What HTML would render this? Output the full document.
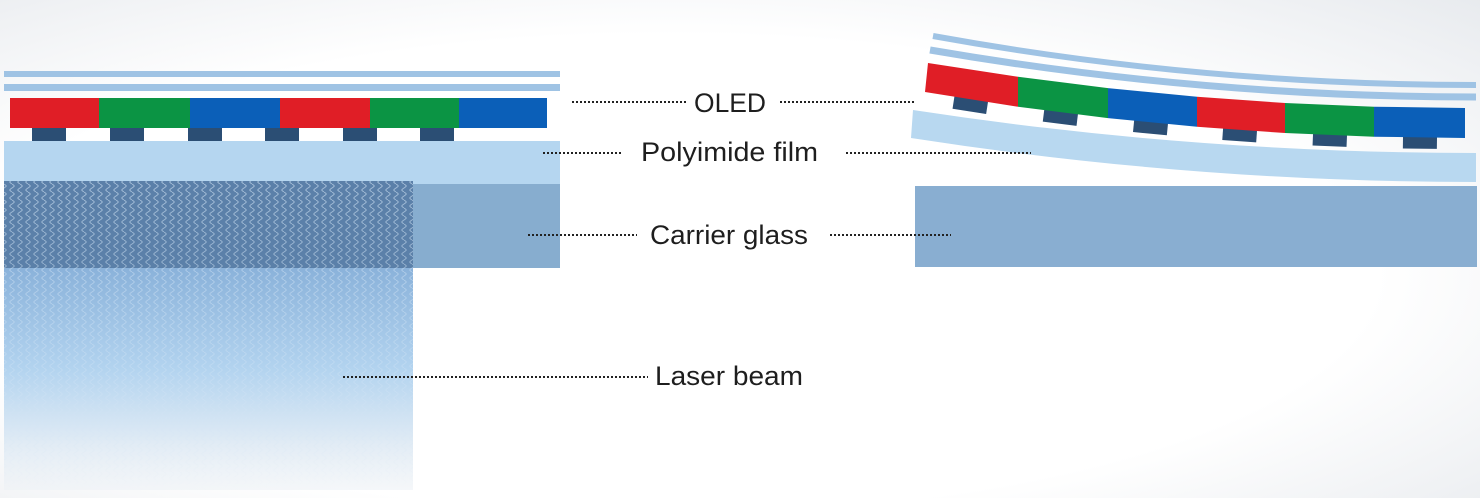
<!DOCTYPE html>
<html><head><meta charset="utf-8"><style>
html,body{margin:0;padding:0;background:#fff;}
svg{display:block;}
text{font-family:"Liberation Sans",sans-serif;font-size:27px;fill:#1e1e1e;}
</style></head><body>
<svg width="1480" height="498" viewBox="0 0 1480 498" xmlns="http://www.w3.org/2000/svg">
<defs>
<radialGradient id="bg" cx="45%" cy="55%" r="80%">
<stop offset="0.6" stop-color="#ffffff"/><stop offset="1" stop-color="#e6e9ed"/>
</radialGradient>
<linearGradient id="beam" x1="0" y1="0" x2="0" y2="1">
<stop offset="0" stop-color="#8ab2da"/><stop offset="0.45" stop-color="#b2d3ef"/><stop offset="0.8" stop-color="#e2ecf5"/><stop offset="1" stop-color="#eef2f6" stop-opacity="0.6"/>
</linearGradient>
<pattern id="wave" width="8" height="8" patternUnits="userSpaceOnUse">
<path d="M4,0 C7,2 7,2 4,4 C1,6 1,6 4,8" fill="none" stroke="#d6e6f6" stroke-width="1" opacity="0.6"/>
</pattern>
<linearGradient id="fadeMask" x1="0" y1="0" x2="0" y2="1">
<stop offset="0" stop-color="#fff"/><stop offset="0.75" stop-color="#fff" stop-opacity="0.5"/><stop offset="1" stop-color="#fff" stop-opacity="0"/>
</linearGradient>
<mask id="m"><rect x="0" y="180" width="420" height="310" fill="url(#fadeMask)"/></mask>
</defs>
<rect width="1480" height="498" fill="url(#bg)"/>

<rect x="4" y="71" width="556" height="6" fill="#9fc3e4"/>
<rect x="4" y="84" width="556" height="7" fill="#9fc3e4"/>
<rect x="10" y="98" width="90" height="30" fill="#e01e26"/>
<rect x="99" y="98" width="91" height="30" fill="#0b9444"/>
<rect x="190" y="98" width="90" height="30" fill="#0b5fb8"/>
<rect x="280" y="98" width="90" height="30" fill="#e01e26"/>
<rect x="370" y="98" width="89" height="30" fill="#0b9444"/>
<rect x="459" y="98" width="88" height="30" fill="#0b5fb8"/>
<g fill="#2b4e74">
<rect x="32" y="128" width="34" height="13"/><rect x="110" y="128" width="34" height="13"/>
<rect x="188" y="128" width="34" height="13"/><rect x="265" y="128" width="34" height="13"/>
<rect x="343" y="128" width="34" height="13"/><rect x="420" y="128" width="34" height="13"/>
</g>
<rect x="4" y="141" width="556" height="43" fill="#b5d6f0"/>
<rect x="4" y="184" width="556" height="84" fill="#87adcf"/>
<rect x="4" y="268" width="409" height="222" fill="url(#beam)"/>
<rect x="4" y="181" width="409" height="87" fill="#5b80a9"/>
<rect x="4" y="181" width="409" height="309" fill="url(#wave)" mask="url(#m)"/>

<path d="M933,36 Q1204,85 1476,85" fill="none" stroke="#9fc3e4" stroke-width="6"/>
<path d="M930,50 Q1203,97 1476,97" fill="none" stroke="#9fc3e4" stroke-width="7"/>
<path d="M913,110 Q1194,153 1476,153 L1476,182 Q1194,182 911,138 Z" fill="#b8d8f0"/>
<g fill="#2b4e74">
<rect x="-17" y="-3" width="34" height="14" transform="translate(971,100.5) rotate(8.7)"/>
<rect x="-17" y="-3" width="34" height="14" transform="translate(1061,112.8) rotate(7.1)"/>
<rect x="-17" y="-3" width="34" height="14" transform="translate(1151,122.7) rotate(5.6)"/>
<rect x="-17" y="-3" width="34" height="14" transform="translate(1240,130.2) rotate(4)"/>
<rect x="-17" y="-3" width="34" height="14" transform="translate(1330,135.2) rotate(2.4)"/>
<rect x="-17" y="-3" width="34" height="14" transform="translate(1420,137.7) rotate(0.8)"/>
</g>
<polygon points="928,63 1018,76.8 1018,106.8 925,92" fill="#e01e26"/>
<polygon points="1018,76.8 1108,88.1 1108,118.1 1018,106.8" fill="#0b9444"/>
<polygon points="1108,88.1 1197,96.8 1197,126.8 1108,118.1" fill="#0b5fb8"/>
<polygon points="1197,96.8 1285,103 1285,133 1197,126.8" fill="#e01e26"/>
<polygon points="1285,103 1374,106.7 1374,136.7 1285,133" fill="#0b9444"/>
<polygon points="1374,106.7 1465,108 1465,138 1374,136.7" fill="#0b5fb8"/>
<rect x="915" y="186" width="562" height="81" fill="#89aed1"/>

<g stroke="#222" stroke-width="2" stroke-dasharray="2,2" fill="none">
<line x1="572" y1="102" x2="688" y2="102"/><line x1="780" y1="102" x2="916" y2="102"/>
<line x1="543" y1="153" x2="621" y2="153"/><line x1="846" y1="153" x2="1031" y2="153"/>
<line x1="528" y1="235" x2="637" y2="235"/><line x1="830" y1="235" x2="951" y2="235"/>
<line x1="343" y1="377" x2="648" y2="377"/>
</g>
<text x="694" y="112" textLength="72" lengthAdjust="spacingAndGlyphs">OLED</text>
<text x="641" y="161" textLength="177" lengthAdjust="spacingAndGlyphs">Polyimide film</text>
<text x="650" y="244" textLength="158" lengthAdjust="spacingAndGlyphs">Carrier glass</text>
<text x="655" y="385" textLength="148" lengthAdjust="spacingAndGlyphs">Laser beam</text>
</svg>
</body></html>
